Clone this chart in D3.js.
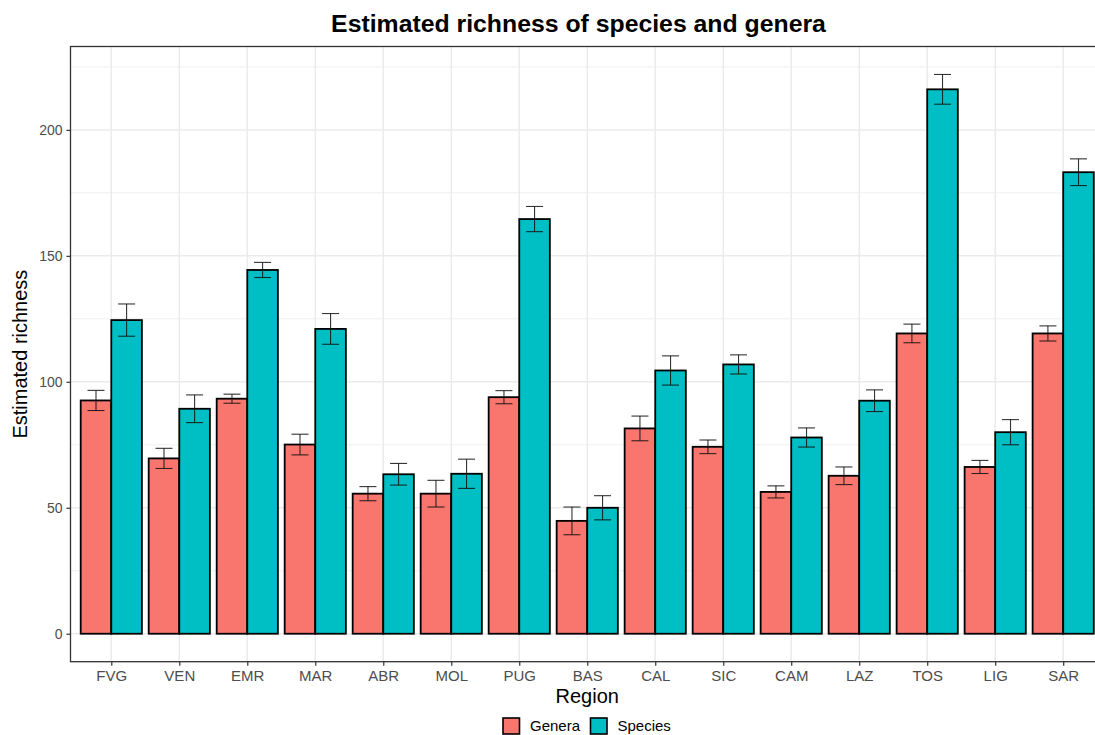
<!DOCTYPE html>
<html>
<head>
<meta charset="utf-8">
<script src="https://cdn.jsdelivr.net/npm/d3@7"></script>
<style>
    body { margin: 0; background: #fff; }
    text { font-family: "Liberation Sans", Arial, sans-serif; }
</style>
</head>
<body>
<div id="container"></div>
<script>
const regions = ["FVG", "VEN", "EMR", "MAR", "ABR", "MOL", "PUG", "BAS", "CAL", "SIC", "CAM", "LAZ", "TOS", "LIG", "SAR"]
const groups = ["Genera", "Species"]

const genera = [92.6, 69.6, 93.3, 75.1, 55.6, 55.6, 93.9, 44.8, 81.5, 74.2, 56.3, 62.7, 119.2, 66.2, 119.2]
const generaErr = [4.0, 4.0, 1.8, 4.1, 2.8, 5.3, 2.6, 5.5, 4.9, 2.7, 2.4, 3.5, 3.7, 2.6, 3.0]
const species = [124.5, 89.3, 144.4, 121.0, 63.3, 63.5, 164.6, 50.0, 104.5, 106.9, 77.9, 92.5, 216.1, 80.0, 183.2]
const speciesErr = [6.4, 5.5, 3.0, 6.1, 4.3, 5.8, 5.0, 4.8, 5.8, 3.8, 3.8, 4.3, 5.9, 5.0, 5.3]

const yTicks = [0, 50, 100, 150, 200]
const yMinor = [25, 75, 125, 175, 225]

const colors = { Genera: "#F8766D", Species: "#00BFC4" }

const width = 1095
const height = 735
const panel = { left: 70.5, top: 46.5, right: 1104, bottom: 661.7 }

// build rows from the arrays
const rows = []
regions.forEach((r, i) => {
    rows.push({ region: r, group: "Genera", value: genera[i], err: generaErr[i] })
    rows.push({ region: r, group: "Species", value: species[i], err: speciesErr[i] })
})

const maxTop = d3.max(rows, d => d.value + d.err)
const pad = maxTop * 0.05

const y = d3.scaleLinear()
    .domain([-pad, maxTop + pad])
    .range([panel.bottom, panel.top])

const x = d3.scalePoint()
    .domain(regions)
    .range([panel.left, panel.right])
    .padding(0.6)

const step = x.step()
const xInner = d3.scaleBand()
    .domain(groups)
    .range([-0.45 * step, 0.45 * step])

const svg = d3.select("#container").append("svg")
    .attr("width", width)
    .attr("height", height)

// grid
svg.append("g")
    .selectAll("line")
    .data(yMinor)
    .enter().append("line")
    .attr("x1", panel.left).attr("x2", panel.right)
    .attr("y1", d => y(d)).attr("y2", d => y(d))
    .attr("stroke", "#EBEBEB")
    .attr("stroke-width", 0.8)

svg.append("g")
    .selectAll("line")
    .data(yTicks)
    .enter().append("line")
    .attr("x1", panel.left).attr("x2", panel.right)
    .attr("y1", d => y(d)).attr("y2", d => y(d))
    .attr("stroke", "#EBEBEB")
    .attr("stroke-width", 1.5)

svg.append("g")
    .selectAll("line")
    .data(regions)
    .enter().append("line")
    .attr("x1", d => x(d)).attr("x2", d => x(d))
    .attr("y1", panel.top).attr("y2", panel.bottom)
    .attr("stroke", "#EBEBEB")
    .attr("stroke-width", 1.5)

// bars
svg.append("g")
    .selectAll("rect")
    .data(rows)
    .enter().append("rect")
    .attr("x", d => x(d.region) + xInner(d.group))
    .attr("y", d => y(d.value))
    .attr("width", xInner.bandwidth())
    .attr("height", d => y(0) - y(d.value))
    .attr("fill", d => colors[d.group])
    .attr("stroke", "#000")
    .attr("stroke-width", 1.8)

// error bars
const capW = 0.25 * step
const err = svg.append("g")
    .attr("stroke", "#111")
    .attr("stroke-opacity", 0.85)
    .attr("stroke-width", 1.1)
    .selectAll("g")
    .data(rows)
    .enter().append("g")
    .attr("transform", d => `translate(${x(d.region) + xInner(d.group) + xInner.bandwidth() / 2}, 0)`)

err.append("line")
    .attr("x1", 0).attr("x2", 0)
    .attr("y1", d => y(d.value - d.err))
    .attr("y2", d => y(d.value + d.err))
err.append("line")
    .attr("x1", -capW / 2).attr("x2", capW / 2)
    .attr("y1", d => y(d.value + d.err))
    .attr("y2", d => y(d.value + d.err))
err.append("line")
    .attr("x1", -capW / 2).attr("x2", capW / 2)
    .attr("y1", d => y(d.value - d.err))
    .attr("y2", d => y(d.value - d.err))

// panel border
svg.append("rect")
    .attr("x", panel.left)
    .attr("y", panel.top)
    .attr("width", panel.right - panel.left)
    .attr("height", panel.bottom - panel.top)
    .attr("fill", "none")
    .attr("stroke", "#333")
    .attr("stroke-width", 1.3)

// axes
const yAxis = svg.append("g")
    .attr("transform", `translate(${panel.left},0)`)
    .call(d3.axisLeft(y).tickValues(yTicks).tickSize(4).tickPadding(4))
yAxis.select(".domain").remove()
yAxis.selectAll(".tick line").attr("stroke", "#333").attr("stroke-width", 1.2)
yAxis.selectAll(".tick text")
    .attr("fill", "#4D4D4D")
    .style("font-size", "14px")

const xAxis = svg.append("g")
    .attr("transform", `translate(0,${panel.bottom})`)
    .call(d3.axisBottom(x).tickSize(4).tickPadding(5))
xAxis.select(".domain").remove()
xAxis.selectAll(".tick line").attr("stroke", "#333").attr("stroke-width", 1.2)
xAxis.selectAll(".tick text")
    .attr("fill", "#4D4D4D")
    .style("font-size", "15px")

// titles
const midX = (panel.left + panel.right) / 2
svg.append("text")
    .attr("x", 578.5)
    .attr("y", 32)
    .attr("text-anchor", "middle")
    .style("font-size", "24.8px")
    .style("font-weight", "bold")
    .text("Estimated richness of species and genera")

svg.append("text")
    .attr("x", midX)
    .attr("y", 703)
    .attr("text-anchor", "middle")
    .style("font-size", "20px")
    .text("Region")

svg.append("text")
    .attr("transform", `translate(27,${(panel.top + panel.bottom) / 2}) rotate(-90)`)
    .attr("text-anchor", "middle")
    .style("font-size", "20px")
    .text("Estimated richness")

// legend
const legend = svg.append("g")
const items = [{ key: "Genera", x: 503 }, { key: "Species", x: 590.5 }]
legend.selectAll("rect")
    .data(items)
    .enter().append("rect")
    .attr("x", d => d.x)
    .attr("y", 718)
    .attr("width", 16.5)
    .attr("height", 16)
    .attr("fill", d => colors[d.key])
    .attr("stroke", "#000")
    .attr("stroke-width", 1.6)

legend.selectAll("text")
    .data(items)
    .enter().append("text")
    .attr("x", d => d.x + 27)
    .attr("y", 731)
    .style("font-size", "15px")
    .attr("fill", "#000")
    .text(d => d.key)
</script>
</body>
</html>
